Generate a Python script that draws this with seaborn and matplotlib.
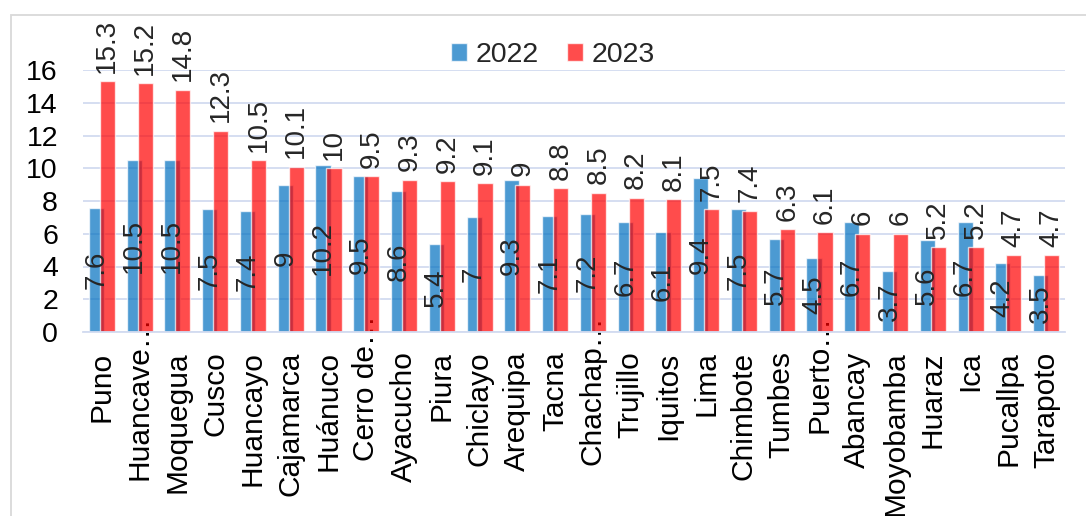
import matplotlib
matplotlib.use("Agg")
import matplotlib.pyplot as plt
import matplotlib.transforms as mtransforms
from matplotlib.patches import Rectangle
import seaborn as sns
import pandas as pd

cities = ["Puno", "Huancave…", "Moquegua", "Cusco", "Huancayo", "Cajamarca",
          "Huánuco", "Cerro de…", "Ayacucho", "Piura", "Chiclayo", "Arequipa",
          "Tacna", "Chachap…", "Trujillo", "Iquitos", "Lima", "Chimbote",
          "Tumbes", "Puerto…", "Abancay", "Moyobamba", "Huaraz", "Ica",
          "Pucallpa", "Tarapoto"]
v2022 = [7.6, 10.5, 10.5, 7.5, 7.4, 9, 10.2, 9.5, 8.6, 5.4, 7, 9.3, 7.1,
         7.2, 6.7, 6.1, 9.4, 7.5, 5.7, 4.5, 6.7, 3.7, 5.6, 6.7, 4.2, 3.5]
v2023 = [15.3, 15.2, 14.8, 12.3, 10.5, 10.1, 10, 9.5, 9.3, 9.2, 9.1, 9,
         8.8, 8.5, 8.2, 8.1, 7.5, 7.4, 6.3, 6.1, 6, 6, 5.2, 5.2, 4.7, 4.7]
years = ["2022", "2023"]
yticks = [0, 2, 4, 6, 8, 10, 12, 14, 16]

df = pd.DataFrame({
    "Ciudad": cities * 2,
    "Año": [years[0]] * len(cities) + [years[1]] * len(cities),
    "Valor": v2022 + v2023,
})

sns.set_style("white")
plt.rcParams["font.family"] = ["Liberation Sans", "DejaVu Sans"]

W, H = 1086, 516
fig = plt.figure(figsize=(W / 100, H / 100), dpi=100)
ax = fig.add_axes([83 / W, 1 - 332 / H, (1065 - 83) / W, (332 - 70) / H])

sns.barplot(data=df, x="Ciudad", y="Valor", hue="Año",
            palette={"2022": "#0070C0", "2023": "#FF0000"},
            saturation=1, alpha=0.7, width=0.8, errorbar=None, ax=ax)

shift = 0.055
for bar in ax.containers[0]:
    bar.set_x(bar.get_x() + shift)
for bar in ax.containers[1]:
    bar.set_x(bar.get_x() - shift)

ax.set_ylim(0, 16)
ax.set_xlim(-0.5, len(cities) - 0.5)
ax.set_yticks(yticks)
ax.set_xlabel("")
ax.set_ylabel("")
grid_c = "#D2DBF0"
ax.yaxis.grid(True, color=grid_c, lw=1.3)
ax.set_axisbelow(True)
for s in ["top", "right", "left"]:
    ax.spines[s].set_visible(False)
ax.spines["bottom"].set_color(grid_c)
ax.spines["bottom"].set_linewidth(1.3)

ax.tick_params(axis="y", length=0, pad=18, labelsize=20.5, labelcolor="black")
ax.tick_params(axis="x", length=0, pad=14, labelsize=21.5, labelcolor="black")
ax.set_xticks(range(len(cities)))
ax.set_xticklabels(cities, rotation=90, ha="center", va="top")
for lbl in ax.get_xticklabels():
    if lbl.get_text().endswith("…"):
        lbl.set_transform(lbl.get_transform() +
                          mtransforms.ScaledTranslation(0, 0.36, fig.dpi_scale_trans))

ax.bar_label(ax.containers[0], labels=[f"{v:g}" for v in v2022],
             label_type="center", rotation=90, fontsize=20)
ax.bar_label(ax.containers[1], labels=[f"{v:g}" for v in v2023],
             label_type="edge", padding=6, rotation=90, fontsize=20)

handles, labels = ax.get_legend_handles_labels()
if ax.get_legend() is not None:
    ax.get_legend().remove()
fig.legend(handles, labels, loc="center", bbox_to_anchor=(553 / W, 1 - 55 / H),
           ncol=2, frameon=False, fontsize=20.5, handlelength=0.55,
           handleheight=0.55, handletextpad=0.3, columnspacing=1.0)

fig.patches.append(Rectangle((11 / W, -0.1), 1.2, (H - 15) / H + 0.1,
                             transform=fig.transFigure, fill=False,
                             ec="#D9D9D9", lw=1.3))

fig.savefig("out.png", dpi=100)
